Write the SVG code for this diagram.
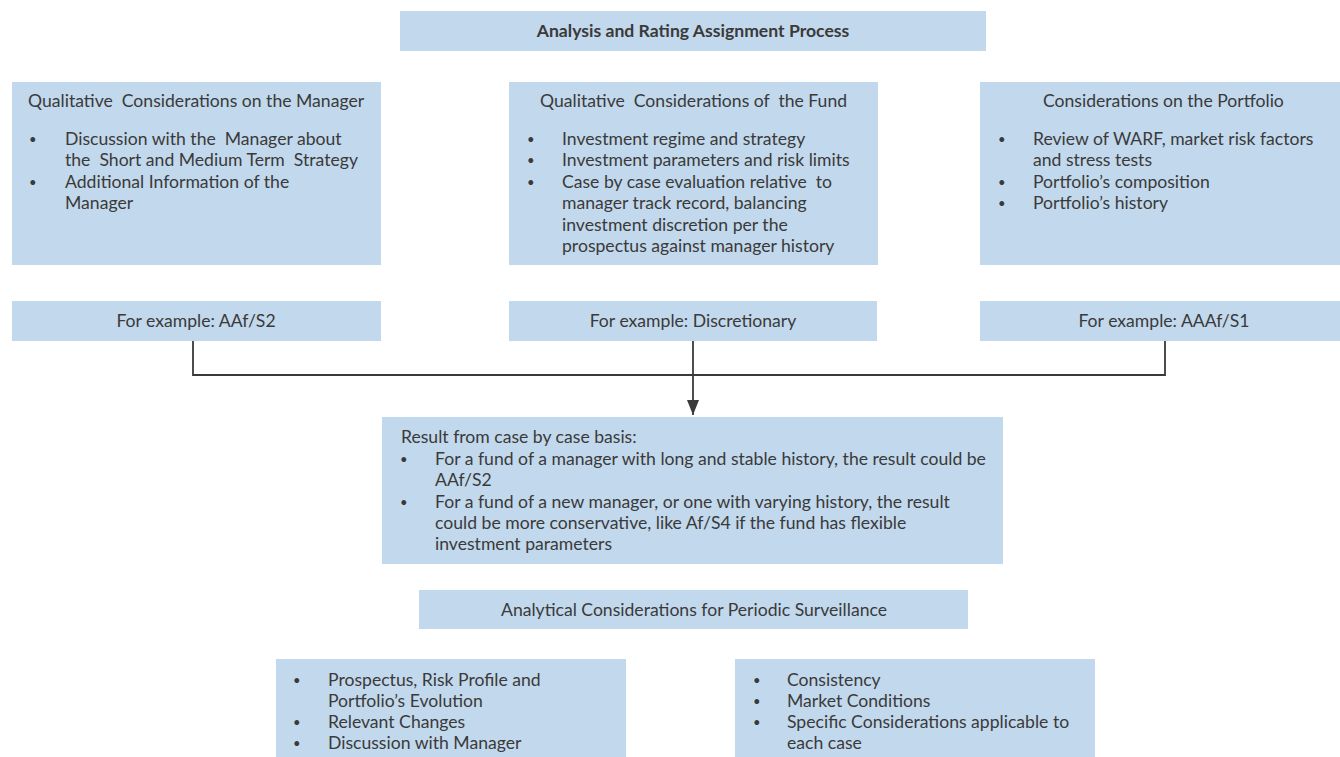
<svg xmlns="http://www.w3.org/2000/svg" width="1340" height="757" viewBox="0 0 1340 757">
<defs>
<style>
.box{fill:#c2d8ec;}
text{font-family:Lato,"Noto Sans","Liberation Sans",sans-serif;font-size:17.6px;fill:#3a3a3a;white-space:pre;}
.b{font-weight:bold;font-size:17.6px;}
.c{text-anchor:middle;}
.d{font-size:13px;}
.conn{fill:none;stroke:#3a3a3a;stroke-width:1.8;}
</style>
<marker id="arr" viewBox="0 0 15 12" refX="15" refY="6" markerWidth="15" markerHeight="12" markerUnits="userSpaceOnUse" orient="auto">
<path d="M0,0 L15,6 L0,12 Z" fill="#3a3a3a"/>
</marker>
</defs>
<rect width="1340" height="757" fill="#ffffff"/>

<g id="title">
<rect class="box" x="400" y="11" width="586" height="40"/>
<text class="b c" x="693" y="37">Analysis and Rating Assignment Process</text>
</g>

<g id="manager">
<rect class="box" x="12" y="82" width="369" height="183"/>
<text x="28" y="107">Qualitative  Considerations on the Manager</text>
<text class="d" x="29" y="144">•</text><text x="65" y="145">Discussion with the  Manager about</text>
<text x="65" y="166">the  Short and Medium Term  Strategy</text>
<text class="d" x="29" y="187">•</text><text x="65" y="188">Additional Information of the</text>
<text x="65" y="209">Manager</text>
</g>

<g id="fund">
<rect class="box" x="509" y="82" width="369" height="183"/>
<text x="540" y="107">Qualitative  Considerations of  the Fund</text>
<text class="d" x="527" y="144">•</text><text x="562" y="145">Investment regime and strategy</text>
<text class="d" x="527" y="165">•</text><text x="562" y="166">Investment parameters and risk limits</text>
<text class="d" x="527" y="187">•</text><text x="562" y="188">Case by case evaluation relative  to</text>
<text x="562" y="209">manager track record, balancing</text>
<text x="562" y="231">investment discretion per the</text>
<text x="562" y="252">prospectus against manager history</text>
</g>

<g id="portfolio">
<rect class="box" x="980" y="82" width="360" height="183"/>
<text x="1043" y="107">Considerations on the Portfolio</text>
<text class="d" x="998" y="144">•</text><text x="1033" y="145">Review of WARF, market risk factors</text>
<text x="1033" y="166">and stress tests</text>
<text class="d" x="998" y="187">•</text><text x="1033" y="188">Portfolio’s composition</text>
<text class="d" x="998" y="208">•</text><text x="1033" y="209">Portfolio’s history</text>
</g>

<g id="ex1">
<rect class="box" x="12" y="301" width="369" height="40"/>
<text class="c" x="196" y="327">For example: AAf/S2</text>
</g>
<g id="ex2">
<rect class="box" x="509" y="301" width="368" height="40"/>
<text class="c" x="693" y="327">For example: Discretionary</text>
</g>
<g id="ex3">
<rect class="box" x="980" y="301" width="360" height="40"/>
<text class="c" x="1164" y="327">For example: AAAf/S1</text>
</g>

<g id="connectors">
<polyline class="conn" points="193,341 193,375 1165,375 1165,341"/>
<line class="conn" x1="693" y1="341" x2="693" y2="415" marker-end="url(#arr)"/>
</g>

<g id="result">
<rect class="box" x="382" y="417" width="621" height="147"/>
<text x="401" y="443">Result from case by case basis:</text>
<text class="d" x="400" y="464">•</text><text x="435" y="465">For a fund of a manager with long and stable history, the result could be</text>
<text x="435" y="486">AAf/S2</text>
<text class="d" x="400" y="507">•</text><text x="435" y="508">For a fund of a new manager, or one with varying history, the result</text>
<text x="435" y="529">could be more conservative, like Af/S4 if the fund has flexible</text>
<text x="435" y="550">investment parameters</text>
</g>

<g id="surveillance">
<rect class="box" x="419" y="590" width="549" height="39"/>
<text class="c" x="694" y="616">Analytical Considerations for Periodic Surveillance</text>
</g>

<g id="surv-left">
<rect class="box" x="276" y="659" width="350" height="98"/>
<text class="d" x="293" y="685">•</text><text x="328" y="686">Prospectus, Risk Profile and</text>
<text x="328" y="707">Portfolio’s Evolution</text>
<text class="d" x="293" y="727">•</text><text x="328" y="728">Relevant Changes</text>
<text class="d" x="293" y="748">•</text><text x="328" y="749">Discussion with Manager</text>
</g>

<g id="surv-right">
<rect class="box" x="735" y="659" width="360" height="98"/>
<text class="d" x="753" y="685">•</text><text x="787" y="686">Consistency</text>
<text class="d" x="753" y="706">•</text><text x="787" y="707">Market Conditions</text>
<text class="d" x="753" y="727">•</text><text x="787" y="728">Specific Considerations applicable to</text>
<text x="787" y="749">each case</text>
</g>
</svg>
